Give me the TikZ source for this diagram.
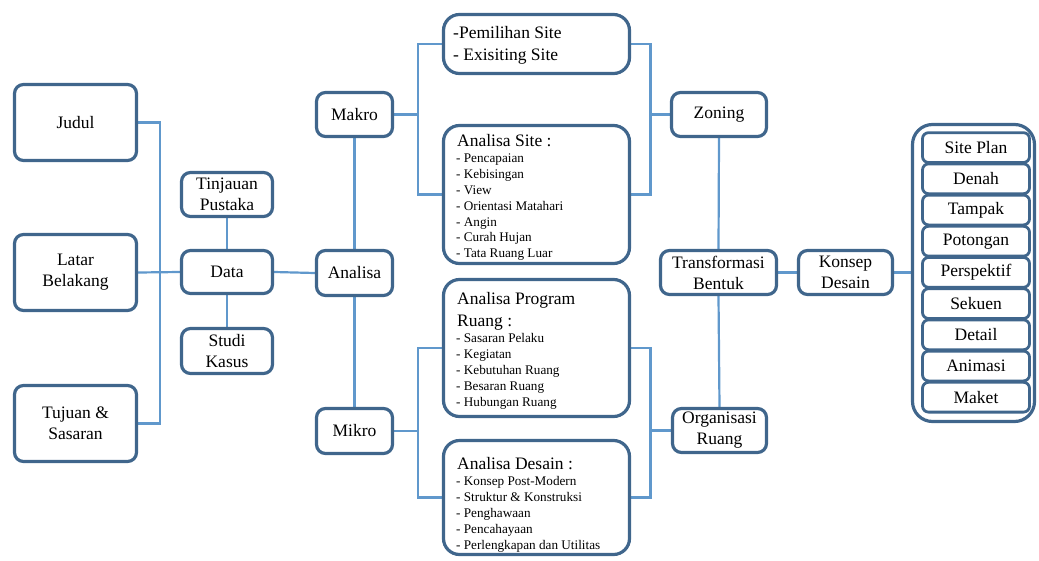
\documentclass[tikz,border=0pt]{standalone}
\usepackage{fontspec}
\setmainfont{Liberation Serif}
\usetikzlibrary{backgrounds}
\definecolor{bd}{RGB}{64,102,140}
\definecolor{ln}{RGB}{96,152,204}
\tikzset{
 box/.style={draw=bd, line width=3.2pt, fill=white, rounded corners=9pt, inner sep=0pt, align=center, font=\fontsize{17.5}{21}\selectfont},
 sz/.style 2 args={minimum width=#1pt, minimum height=#2pt},
 bigbox/.style={box, rounded corners=16pt},
 itembox/.style={box, rounded corners=6pt, line width=2.8pt, minimum width=107pt, minimum height=29.8pt},
 conn/.style={draw=ln, line width=2.2pt},
 head/.style={anchor=west, inner sep=0pt, font=\fontsize{17.5}{21.5}\selectfont, align=left},
 lst/.style={anchor=north west, inner sep=0pt, font=\fontsize{13.2}{15.9}\selectfont, align=left},
}
\begin{document}
\begin{tikzpicture}[x=1pt,y=-1pt]
\useasboundingbox (0,0) rectangle (1039,560);
% left column
\node[box, sz={122}{76}] (judul) at (75.5,122.5) {Judul};
\node[box, sz={122}{76}] (latar) at (75.5,272.5) {Latar\\Belakang};
\node[box, sz={122}{76}] (tujuan) at (75.5,423.5) {Tujuan \&\\Sasaran};
% data column
\node[box, sz={91}{44}] (tinjauan) at (227,194.5) {Tinjauan\\Pustaka};
\node[box, sz={91}{43}] (data) at (227,272) {Data};
\node[box, sz={91}{45}] (studi) at (227,351) {Studi\\Kasus};
% analisa column
\node[box, sz={76}{44}] (makro) at (354.5,114.5) {Makro};
\node[box, sz={76}{45}] (analisa) at (354.5,273) {Analisa};
\node[box, sz={76}{45}] (mikro) at (354.5,431) {Mikro};
% big boxes
\node[bigbox, sz={186}{59}] (pem) at (536.5,44) {};
\node[head, font=\fontsize{17.5}{22}\selectfont] (pemtxt) at (453,45.5) {-Pemilihan Site\\- Exisiting Site};
\node[bigbox, sz={186}{138}] (site) at (536.5,194.5) {};
\node[head] (sitehead) at (457,140.5) {Analisa Site :};
\node[lst] (sitelist) at (456,153.5) {- Pencapaian\\- Kebisingan\\- View\\- Orientasi Matahari\\- Angin\\- Curah Hujan\\- Tata Ruang Luar};
\node[bigbox, sz={186}{137}] (apr) at (536.5,348) {};
\node[head] (aprhead) at (457,311.5) {Analisa Program\\Ruang :};
\node[lst] (aprlist) at (456,333.5) {- Sasaran Pelaku\\- Kegiatan\\- Kebutuhan Ruang\\- Besaran Ruang\\- Hubungan Ruang};
\node[bigbox, sz={186}{114}] (ad) at (536.5,497.5) {};
\node[head] (adhead) at (457,463.5) {Analisa Desain :};
\node[lst] (adlist) at (456,476.5) {- Konsep Post-Modern\\- Struktur \& Konstruksi\\- Penghawaan\\- Pencahayaan\\- Perlengkapan dan Utilitas};
% right side
\node[box, sz={95}{44}] (zoning) at (719,114.5) {Zoning};
\node[box, sz={116}{44}] (transf) at (718.5,272.5) {Transformasi\\Bentuk};
\node[box, sz={94}{44}] (org) at (719.5,430.5) {Organisasi\\Ruang};
\node[box, sz={94}{44}] (konsep) at (845.5,272.5) {Konsep\\Desain};
\node[box, rounded corners=20pt, sz={122}{297}] (outer) at (973.5,273) {};
\foreach \t [count=\i from 0] in {Site Plan,Denah,Tampak,Potongan,Perspektif,Sekuen,Detail,Animasi,Maket}
  \node[itembox] (it\i) at (976,{147.6+31.2*\i}) {\t};
% bracket coordinates
\coordinate (lbx) at (160,0);
\coordinate (mbx) at (418,0);
\coordinate (zbx) at (650.5,0);
\begin{scope}[on background layer]
\draw[conn] (judul.east) -- (judul.east -| lbx) -- (tujuan.east -| lbx) -- (tujuan.east);
\draw[conn] (latar.east) -- (data.west);
\draw[conn] (tinjauan.south) -- (data.north);
\draw[conn] (data.south) -- (studi.north);
\draw[conn] (data.east) -- (analisa.west);
\draw[conn] (makro.south) -- (analisa.north);
\draw[conn] (analisa.south) -- (mikro.north);
\draw[conn] (makro.east) -- (makro.east -| mbx);
\draw[conn] (pem.west) -- (pem.west -| mbx) -- (site.west -| mbx) -- (site.west);
\draw[conn] (mikro.east) -- (mikro.east -| mbx);
\draw[conn] (apr.west) -- (apr.west -| mbx) -- (ad.west -| mbx) -- (ad.west);
\draw[conn] (pem.east) -- (pem.east -| zbx) -- (site.east -| zbx) -- (site.east);
\draw[conn] (zbx |- zoning.west) -- (zoning.west);
\draw[conn] (apr.east) -- (apr.east -| zbx) -- (ad.east -| zbx) -- (ad.east);
\draw[conn] (zbx |- org.west) -- (org.west);
\draw[conn] (zoning.south) -- (transf.north);
\draw[conn] (transf.south) -- (org.north);
\draw[conn] (transf.east) -- (konsep.west);
\draw[conn] (konsep.east) -- (konsep.east -| outer.west);
\end{scope}
\end{tikzpicture}
\end{document}
